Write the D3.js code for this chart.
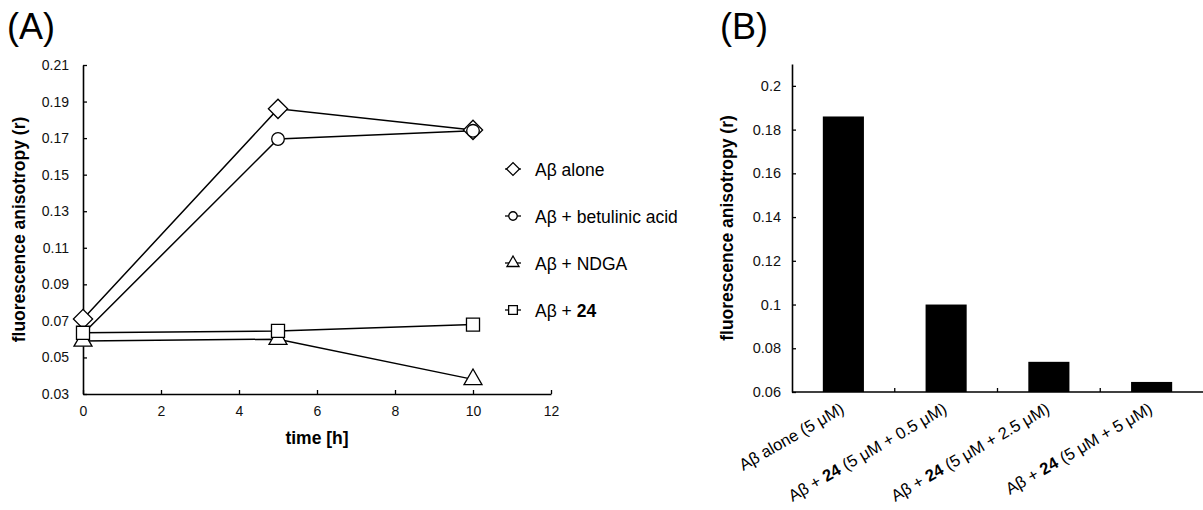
<!DOCTYPE html>
<html>
<head>
<meta charset="utf-8">
<script src="https://cdn.jsdelivr.net/npm/d3@7"></script>
<style>
  html, body { margin: 0; padding: 0; background: #fff; }
  svg { display: block; font-family: "Liberation Sans", Arial, Helvetica, sans-serif; }
</style>
</head>
<body>
<svg id="fig" width="1203" height="510"></svg>
<script>
// ---------- Panel A: anisotropy over time ----------
const times = [0, 5, 10];
const seriesNames = ["alone", "betulinic", "ndga", "c24"];
const aloneValues     = [0.071, 0.186, 0.1745];
const betulinicValues = [0.063, 0.1695, 0.174];
const ndgaValues      = [0.059, 0.060, 0.038];
const c24Values       = [0.0635, 0.0645, 0.068];
const timeTicks = [0, 2, 4, 6, 8, 10, 12];
const anisoTicksA = [0.03, 0.05, 0.07, 0.09, 0.11, 0.13, 0.15, 0.17, 0.19, 0.21];

// ---------- Panel B: anisotropy vs. concentration of 24 ----------
const barCategories = ["alone", "0.5", "2.5", "5"];
const barValues = [0.186, 0.100, 0.0738, 0.0646];
const anisoTicksB = [0.06, 0.08, 0.1, 0.12, 0.14, 0.16, 0.18, 0.2];

const svg = d3.select("#fig");
const black = "#000";

// ======================= Panel A =======================
const xA = d3.scaleLinear().domain([0, 12]).range([83, 551]);
const yA = d3.scaleLinear().domain([0.03, 0.21]).range([394, 65]);

svg.append("text").attr("x", 7).attr("y", 39)
  .attr("font-size", 36).text("(A)");

const gAx = svg.append("g").attr("transform", `translate(0,${yA(0.03)})`)
  .call(d3.axisBottom(xA).tickValues(timeTicks).tickFormat(d3.format("d"))
    .tickSizeInner(-4).tickSizeOuter(0).tickPadding(12));
const gAy = svg.append("g").attr("transform", `translate(${xA(0)},0)`)
  .call(d3.axisLeft(yA).tickValues(anisoTicksA).tickFormat(d3.format(".2f"))
    .tickSizeInner(-4).tickSizeOuter(0).tickPadding(14));
[gAx, gAy].forEach(g => {
  g.select(".domain").attr("stroke", black).attr("stroke-width", 1.6);
  g.selectAll(".tick line").attr("stroke", black).attr("stroke-width", 1.3);
  g.selectAll(".tick text").attr("font-size", 14).attr("fill", "#111")
    .attr("font-family", "Liberation Sans, Arial, sans-serif");
});

svg.append("text").attr("x", (xA(0) + xA(12)) / 2).attr("y", 444)
  .attr("text-anchor", "middle").attr("font-weight", "bold").attr("font-size", 17.5)
  .text("time [h]");
svg.append("text")
  .attr("transform", `translate(25,${(yA(0.03) + yA(0.21)) / 2}) rotate(-90)`)
  .attr("text-anchor", "middle").attr("font-weight", "bold").attr("font-size", 17.5)
  .text("fluorescence anisotropy (r)");

const seriesData = {
  alone: aloneValues, betulinic: betulinicValues, ndga: ndgaValues, c24: c24Values
};
const symbolFor = {
  alone: { type: d3.symbolSquare, size: 185, rot: 45 },
  betulinic: { type: d3.symbolCircle, size: 125, rot: 0 },
  ndga: { type: d3.symbolTriangle, size: 140, rot: 0 },
  c24: { type: d3.symbolSquare, size: 170, rot: 0 }
};

const line = d3.line().x(d => xA(d.t)).y(d => yA(d.v));
seriesNames.forEach(name => {
  const pts = times.map((t, i) => ({ t, v: seriesData[name][i] }));
  svg.append("path").datum(pts).attr("d", line)
    .attr("fill", "none").attr("stroke", black).attr("stroke-width", 1.5);
});
seriesNames.forEach(name => {
  const pts = times.map((t, i) => ({ t, v: seriesData[name][i] }));
  const s = symbolFor[name];
  svg.append("g").selectAll("path").data(pts).join("path")
    .attr("d", d3.symbol().type(s.type).size(s.size))
    .attr("transform", d => `translate(${xA(d.t)},${yA(d.v)}) rotate(${s.rot})`)
    .attr("fill", "#fff").attr("stroke", black).attr("stroke-width", 1.3);
});

// Legend
const legendLabels = [
  [{ t: "Aβ alone" }],
  [{ t: "Aβ + betulinic acid" }],
  [{ t: "Aβ + NDGA" }],
  [{ t: "Aβ + " }, { t: "24", b: true }]
];
const legendY = [169, 216, 263, 310];
seriesNames.forEach((name, i) => {
  const g = svg.append("g").attr("transform", `translate(513,${legendY[i]})`);
  g.append("line").attr("x1", -8).attr("x2", 8).attr("stroke", black).attr("stroke-width", 1.3);
  const s = symbolFor[name];
  g.append("path").attr("d", d3.symbol().type(s.type).size(s.size * 0.45))
    .attr("transform", `rotate(${s.rot})`)
    .attr("fill", "#fff").attr("stroke", black).attr("stroke-width", 1.3);
  const t = g.append("text").attr("x", 22).attr("y", 6.5).attr("font-size", 17.5);
  legendLabels[i].forEach(p => t.append("tspan").attr("font-weight", p.b ? "bold" : null).text(p.t));
});

// ======================= Panel B =======================
const xB = d3.scaleBand().domain(barCategories).range([792, 1203])
  .paddingInner(0.6).paddingOuter(0.3);
const yB = d3.scaleLinear().domain([0.06, 0.21]).range([392, 64]);

svg.append("text").attr("x", 720).attr("y", 39)
  .attr("font-size", 36).text("(B)");

svg.append("g").selectAll("rect").data(barCategories).join("rect")
  .attr("x", d => xB(d)).attr("width", xB.bandwidth())
  .attr("y", (d, i) => yB(barValues[i]))
  .attr("height", (d, i) => yB(0.06) - yB(barValues[i]))
  .attr("fill", black);

const gBy = svg.append("g").attr("transform", `translate(792,0)`)
  .call(d3.axisLeft(yB).tickValues(anisoTicksB).tickFormat(d => String(+d.toFixed(2)))
    .tickSizeInner(-4).tickSizeOuter(0).tickPadding(11));
gBy.select(".domain").attr("stroke", black).attr("stroke-width", 1.6);
gBy.selectAll(".tick line").attr("stroke", black).attr("stroke-width", 1.3);
gBy.selectAll(".tick text").attr("font-size", 14.5).attr("fill", "#111")
  .attr("font-family", "Liberation Sans, Arial, sans-serif");

// category axis: baseline plus small separators between bands
const step = xB.step();
const sepX = barCategories.slice(1).map(c => xB(c) - xB.paddingInner() * step / 2);
svg.append("line").attr("x1", 792).attr("x2", 1203)
  .attr("y1", yB(0.06)).attr("y2", yB(0.06))
  .attr("stroke", black).attr("stroke-width", 1.6);
svg.append("g").selectAll("line").data(sepX).join("line")
  .attr("x1", d => d).attr("x2", d => d)
  .attr("y1", yB(0.06)).attr("y2", yB(0.06) - 4)
  .attr("stroke", black).attr("stroke-width", 1.3);

svg.append("text")
  .attr("transform", `translate(733,${(yB(0.06) + yB(0.21)) / 2}) rotate(-90)`)
  .attr("text-anchor", "middle").attr("font-weight", "bold").attr("font-size", 17.5)
  .text("fluorescence anisotropy (r)");

const barLabelParts = [
  [{ t: "Aβ alone (5 μM)" }],
  [{ t: "Aβ + " }, { t: "24", b: true }, { t: " (5 μM + 0.5 μM)" }],
  [{ t: "Aβ + " }, { t: "24", b: true }, { t: " (5 μM + 2.5 μM)" }],
  [{ t: "Aβ + " }, { t: "24", b: true }, { t: " (5 μM + 5 μM)" }]
];
barCategories.forEach((c, i) => {
  const cx = xB(c) + xB.bandwidth() / 2;
  const t = svg.append("text")
    .attr("transform", `translate(${cx + 2},${yB(0.06) + 20}) rotate(-30)`)
    .attr("text-anchor", "end").attr("font-size", 16.5);
  barLabelParts[i].forEach(p => t.append("tspan").attr("font-weight", p.b ? "bold" : null).text(p.t));
});
</script>
</body>
</html>
